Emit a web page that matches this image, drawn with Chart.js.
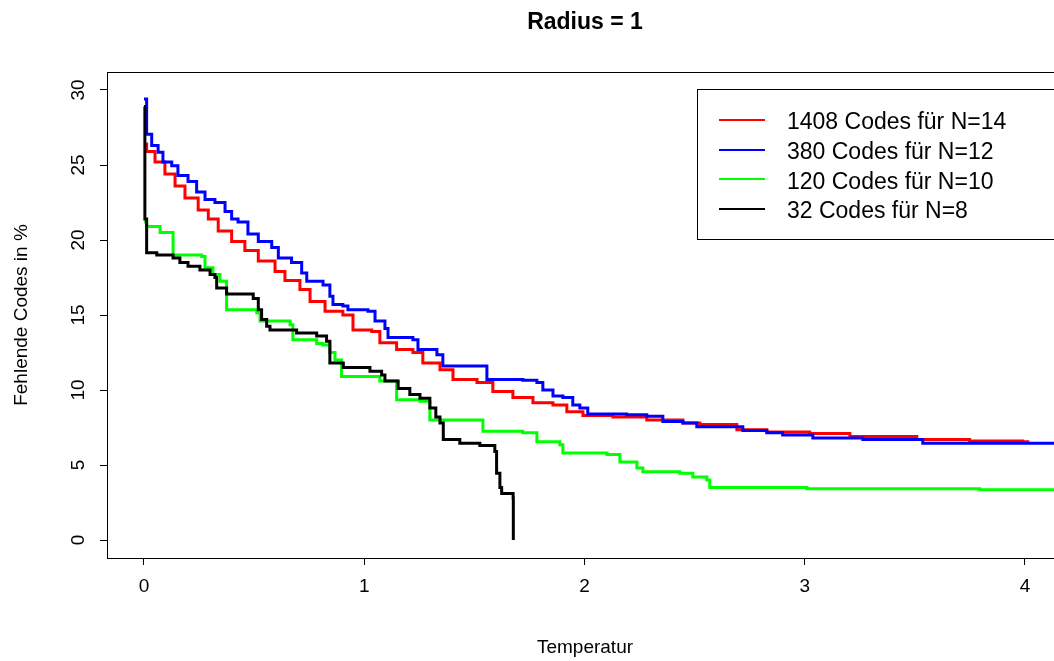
<!DOCTYPE html>
<html><head><meta charset="utf-8">
<script src="https://cdn.jsdelivr.net/npm/chart.js@4/dist/chart.umd.min.js"></script>
<style>html,body{margin:0;padding:0;background:#fff;} canvas{display:block;}</style>
</head><body>
<canvas id="c" width="1054" height="661"></canvas>
<script>
// ---- data ----
const xTicks = [0, 1, 2, 3, 4];
const yTicks = [0, 5, 10, 15, 20, 25, 30];
const seriesLabels = ['1408 Codes für N=14', '380 Codes für N=12', '120 Codes für N=10', '32 Codes für N=8'];
const seriesColors = ['#ff0000', '#0000ff', '#00ff00', '#000000'];
const titleText = 'Radius = 1';
const xTitle = 'Temperatur';
const yTitle = 'Fehlende Codes in %';

const n14 = [[0,26.4],[0.012,25.9],[0.05,25.2],[0.095,24.4],[0.141,23.6],[0.186,22.8],[0.246,22.0],[0.292,21.4],[0.337,20.6],[0.398,19.9],[0.458,19.3],[0.519,18.6],[0.595,17.9],[0.64,17.3],[0.708,16.7],[0.754,15.9],[0.822,15.25],[0.903,15.0],[0.949,14.0],[1.034,13.9],[1.071,13.15],[1.147,12.7],[1.221,12.5],[1.266,11.8],[1.344,11.35],[1.403,10.7],[1.512,10.5],[1.584,9.9],[1.675,9.5],[1.766,9.15],[1.857,9.0],[1.92,8.55],[1.993,8.3],[2.129,8.2],[2.283,8.0],[2.447,7.8],[2.524,7.7],[2.692,7.35],[2.828,7.2],[3.023,7.1],[3.205,6.9],[3.509,6.7],[3.749,6.6],[3.99,6.55],[4.02,6.55]];

const n12 = [[0,29.4],[0.012,27.05],[0.035,26.3],[0.064,25.85],[0.086,25.2],[0.126,24.95],[0.154,24.3],[0.2,23.9],[0.239,23.2],[0.277,22.7],[0.322,22.5],[0.368,21.9],[0.398,21.4],[0.427,21.2],[0.472,20.4],[0.519,19.9],[0.58,19.5],[0.61,18.8],[0.67,18.5],[0.716,17.8],[0.739,17.25],[0.813,17.0],[0.844,16.25],[0.858,15.7],[0.903,15.6],[0.926,15.35],[1.017,15.25],[1.049,14.6],[1.094,14.1],[1.108,13.5],[1.221,13.35],[1.244,12.7],[1.33,12.35],[1.357,11.6],[1.557,10.7],[1.72,10.65],[1.784,10.5],[1.811,10.0],[1.857,9.6],[1.902,9.5],[1.947,9.0],[1.979,8.8],[2.015,8.4],[2.192,8.35],[2.283,8.25],[2.356,7.9],[2.447,7.8],[2.51,7.55],[2.719,7.3],[2.828,7.15],[2.9,7.0],[3.037,6.8],[3.264,6.7],[3.536,6.45],[4.2,6.45]];

const n10 = [[0,21.2],[0.012,20.9],[0.073,20.5],[0.132,19.9],[0.132,19.0],[0.262,18.9],[0.277,18.15],[0.313,17.7],[0.345,17.25],[0.375,16.7],[0.375,15.35],[0.512,15.15],[0.527,14.6],[0.663,14.35],[0.676,13.35],[0.784,13.1],[0.813,13.0],[0.844,12.5],[0.867,12.0],[0.897,11.35],[0.897,10.9],[1.071,10.6],[1.147,9.9],[1.147,9.35],[1.253,9.25],[1.298,8.7],[1.298,8.0],[1.539,7.25],[1.72,7.15],[1.784,6.55],[1.888,6.35],[1.902,5.8],[2.102,5.7],[2.161,5.2],[2.238,4.8],[2.265,4.55],[2.433,4.45],[2.492,4.2],[2.556,4.0],[2.569,3.5],[3.01,3.42],[3.795,3.35],[4.2,3.35]];

const n8 = [[0,28.9],[0.004,21.4],[0.012,19.15],[0.058,19.0],[0.132,18.8],[0.163,18.5],[0.2,18.25],[0.254,18.0],[0.3,17.7],[0.322,17.5],[0.33,16.8],[0.375,16.4],[0.496,16.1],[0.519,15.35],[0.534,14.7],[0.557,14.25],[0.572,14.0],[0.693,13.8],[0.784,13.6],[0.829,13.25],[0.844,11.8],[0.905,11.5],[1.026,11.25],[1.079,11.0],[1.094,10.6],[1.154,10.1],[1.207,9.7],[1.253,9.45],[1.298,8.8],[1.325,8.2],[1.344,7.8],[1.359,6.7],[1.434,6.45],[1.525,6.3],[1.593,5.9],[1.601,4.45],[1.616,3.5],[1.624,3.1],[1.676,2.8],[1.677,0]];

// ---- chart ----
const FONT = '"Liberation Sans", Arial, sans-serif';
const series = [n14, n12, n10, n8];
const drawOrder = [3, 2, 1, 0];

const datasets = series.map((s, i) => ({
  label: seriesLabels[i],
  data: s.map(p => ({x: p[0], y: p[1]})),
  borderColor: seriesColors[i],
  backgroundColor: seriesColors[i],
  borderWidth: 3,
  pointRadius: 0,
  pointHoverRadius: 0,
  stepped: true,
  fill: false,
  tension: 0,
  order: drawOrder[i]
}));

const decor = {
  id: 'decor',
  afterDraw(chart) {
    const ctx = chart.ctx, a = chart.chartArea, ys = chart.scales.y;
    ctx.save();
    ctx.strokeStyle = '#000'; ctx.lineWidth = 1;
    ctx.beginPath(); ctx.moveTo(a.left, a.top + 0.5); ctx.lineTo(a.right + 1, a.top + 0.5); ctx.stroke();
    ctx.fillStyle = '#000';
    ctx.textAlign = 'center'; ctx.textBaseline = 'middle';
    ctx.font = 'bold 23px ' + FONT;
    ctx.fillText(titleText, 585, 23);
    ctx.font = '19px ' + FONT;
    ctx.fillText(xTitle, 585, 648);
    ctx.save(); ctx.translate(22, 315); ctx.rotate(-Math.PI / 2); ctx.fillText(yTitle, 0, 0); ctx.restore();
    for (const v of yTicks) {
      const py = ys.getPixelForValue(v);
      ctx.save(); ctx.translate(79, py); ctx.rotate(-Math.PI / 2); ctx.fillText(String(v), 0, 0); ctx.restore();
    }
    // legend
    ctx.fillStyle = '#fff';
    ctx.fillRect(697.5, 89.5, 420, 150);
    ctx.strokeStyle = '#000';
    ctx.strokeRect(697.5, 89.5, 420, 150);
    ctx.font = '23px ' + FONT;
    ctx.textAlign = 'left';
    seriesLabels.forEach((lab, i) => {
      const yy = 120 + i * 29.7;
      ctx.strokeStyle = seriesColors[i]; ctx.lineWidth = 2;
      ctx.beginPath(); ctx.moveTo(719, Math.round(yy)); ctx.lineTo(765, Math.round(yy)); ctx.stroke();
      ctx.fillStyle = '#000';
      ctx.fillText(lab, 787, yy + 3);
    });
    ctx.restore();
  }
};

new Chart(document.getElementById('c'), {
  type: 'line',
  data: { datasets },
  options: {
    responsive: false,
    animation: false,
    devicePixelRatio: 1,
    layout: { padding: { top: 72, left: 0, right: 0, bottom: 0 } },
    plugins: { legend: { display: false }, title: { display: false }, tooltip: { enabled: false } },
    events: [],
    scales: {
      x: {
        type: 'linear', min: -0.168, max: 4.132,
        afterBuildTicks: s => { s.ticks = xTicks.map(v => ({ value: v })); },
        afterFit: s => { s.height = 103; },
        grid: { display: true, drawOnChartArea: false, drawTicks: true, tickLength: 7, color: '#000', lineWidth: 1 },
        border: { display: true, color: '#000', width: 1 },
        ticks: { color: '#000', font: { family: FONT, size: 19 }, padding: 10, maxRotation: 0, autoSkip: false }
      },
      y: {
        type: 'linear', min: -1.2, max: 31.2,
        afterBuildTicks: s => { s.ticks = yTicks.map(v => ({ value: v })); },
        afterFit: s => { s.width = 107; },
        grid: { display: true, drawOnChartArea: false, drawTicks: true, tickLength: 7, color: '#000', lineWidth: 1 },
        border: { display: true, color: '#000', width: 1 },
        ticks: { display: false }
      }
    }
  },
  plugins: [decor]
});
</script>
</body></html>
